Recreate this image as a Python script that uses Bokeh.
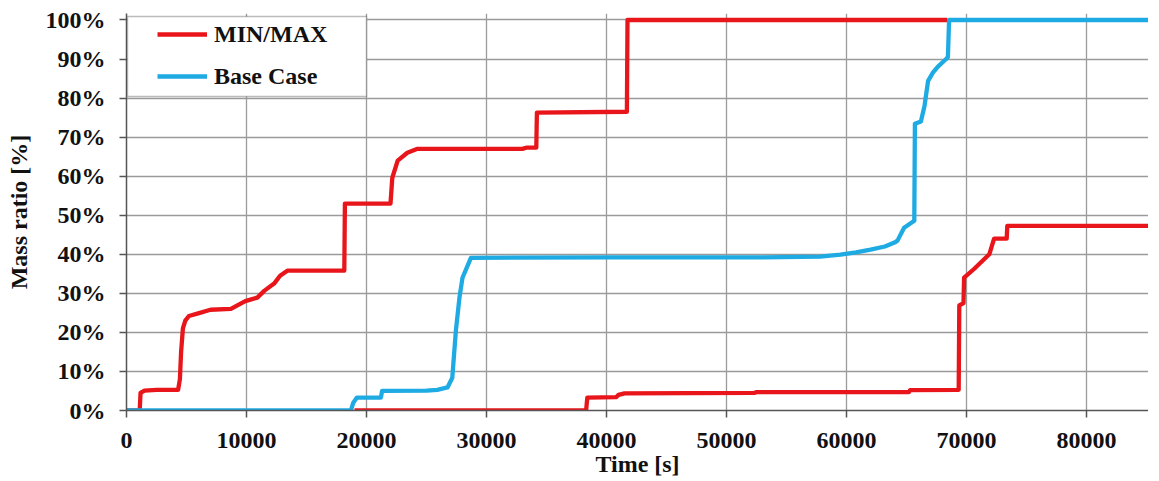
from bokeh.plotting import figure
from bokeh.models import (Range1d, FixedTicker, NumeralTickFormatter, Legend, LegendItem,
                          BoxAnnotation)
from bokeh.embed import file_html
from bokeh.resources import INLINE

# ---- data (time in s, mass ratio in %) ----
minmax_upper_t = [0, 1100, 1170, 1500, 2500, 4300, 4450, 4550, 4700, 4900, 5200, 5900, 7000,
                  8700, 9900, 10900, 11500, 12300, 12800, 13400, 14000, 18150, 18200, 22000,
                  22150, 22600, 23400, 24250, 26000, 33000, 33300, 34150, 34200, 41700, 41750,
                  68400]
minmax_upper_v = [0, 0, 4.5, 5.1, 5.3, 5.3, 8, 15, 21, 23, 24.2, 24.8, 25.8,
                  26.0, 28.0, 28.9, 30.7, 32.5, 34.5, 35.8, 35.8, 35.8, 53.0, 53.0,
                  59.6, 64.0, 66.0, 67.0, 67.0, 67.0, 67.3, 67.3, 76.3, 76.5, 100.0,
                  100.0]

minmax_lower_t = [19000, 38300, 38400, 40800, 41000, 41500, 52300, 52500, 65200, 65300,
                  69350, 69400, 69750, 69800, 70650, 71900, 72300, 73350, 73400, 86000]
minmax_lower_v = [0, 0, 3.3, 3.4, 4.0, 4.4, 4.5, 4.7, 4.7, 5.2,
                  5.3, 26.9, 27.5, 34.0, 36.3, 40.0, 44.0, 44.0, 47.3, 47.3]

base_t = [0, 18700, 18900, 19200, 21200, 21300, 25000, 25900, 26750, 27150, 27450, 27750,
          28000, 28700, 40000, 53000, 57800, 59500, 60800, 62000, 63200, 64000, 64250,
          64800, 65650, 65700, 66200, 66500, 66800, 67200, 67600, 68300, 68450, 68550,
          86000]
base_v = [0, 0, 2.0, 3.3, 3.3, 5.0, 5.1, 5.3, 5.9, 8.4, 20.5, 29.0,
          34.0, 39.1, 39.2, 39.2, 39.4, 39.9, 40.5, 41.2, 42.0, 43.0, 43.5,
          46.8, 48.6, 73.4, 74.0, 78.0, 84.4, 86.5, 88.0, 90.0, 90.5, 100.0,
          100.0]

x_ticks = [0, 10000, 20000, 30000, 40000, 50000, 60000, 70000, 80000]
y_ticks = [0.0, 0.1, 0.2, 0.3, 0.4, 0.5, 0.6, 0.7, 0.8, 0.9, 1.0]

RED = "#E8161B"
BLUE = "#1EABE3"
FONT = "Liberation Serif"

p = figure(frame_width=1022, frame_height=397, output_backend="svg", toolbar_location=None,
           x_range=Range1d(0, 85167), y_range=Range1d(0, 1.0166),
           min_border_left=126, min_border_top=13, min_border_right=0, min_border_bottom=20)
p.outline_line_color = None
p.background_fill_color = "white"

r1 = p.line(minmax_upper_t, [v / 100 for v in minmax_upper_v],
            line_color=RED, line_width=4.3, line_join="round")
r2 = p.line(minmax_lower_t, [v / 100 for v in minmax_lower_v],
            line_color=RED, line_width=4.3, line_join="round")
r3 = p.line(base_t, [v / 100 for v in base_v],
            line_color=BLUE, line_width=4.3, line_join="round")

# axes
p.xaxis.ticker = FixedTicker(ticks=x_ticks)
p.xaxis.formatter = NumeralTickFormatter(format="0")
p.yaxis.ticker = FixedTicker(ticks=y_ticks)
p.yaxis.formatter = NumeralTickFormatter(format="0%")
for ax in (p.xaxis[0], p.yaxis[0]):
    ax.axis_line_color = "#555555"
    ax.axis_line_width = 1.5
    ax.major_tick_line_color = "#555555"
    ax.major_tick_line_width = 1.5
    ax.major_tick_out = 7
    ax.major_tick_in = 0
    ax.minor_tick_line_color = None
    ax.major_label_text_font = FONT
    ax.major_label_text_font_style = "bold"
    ax.major_label_text_font_size = "24px"
    ax.major_label_text_color = "#111111"
    ax.axis_label_text_font = FONT
    ax.axis_label_text_font_style = "bold"
    ax.axis_label_text_font_size = "24px"
    ax.axis_label_text_color = "#111111"
p.xaxis.axis_label = "Time [s]"
p.yaxis.axis_label = "Mass ratio [%]"
p.xaxis.major_label_standoff = 15
p.xaxis.axis_label_standoff = 0
p.yaxis.major_label_standoff = 14
p.yaxis.axis_label_standoff = 11

p.xgrid.ticker = FixedTicker(ticks=x_ticks)
p.ygrid.ticker = FixedTicker(ticks=y_ticks)
for g in (p.xgrid[0], p.ygrid[0]):
    g.grid_line_color = "#9a9a9a"
    g.grid_line_width = 1.3

# legend box
box = BoxAnnotation(left=80, right=20000, bottom=0.804, top=1.009,
                    fill_color="white", fill_alpha=1.0,
                    line_color="#222222", line_width=1.5)
p.add_layout(box)

legend = Legend(items=[LegendItem(label="MIN/MAX", renderers=[r1]),
                       LegendItem(label="Base Case", renderers=[r3])],
                location=(31, 320), padding=0, spacing=14, margin=0,
                glyph_width=50, glyph_height=28, label_height=28, label_standoff=7,
                background_fill_alpha=0, border_line_color=None,
                label_text_font=FONT, label_text_font_style="bold",
                label_text_font_size="24px", label_text_color="#111111")
p.add_layout(legend)

open("out.html", "w").write(file_html(p, INLINE))
